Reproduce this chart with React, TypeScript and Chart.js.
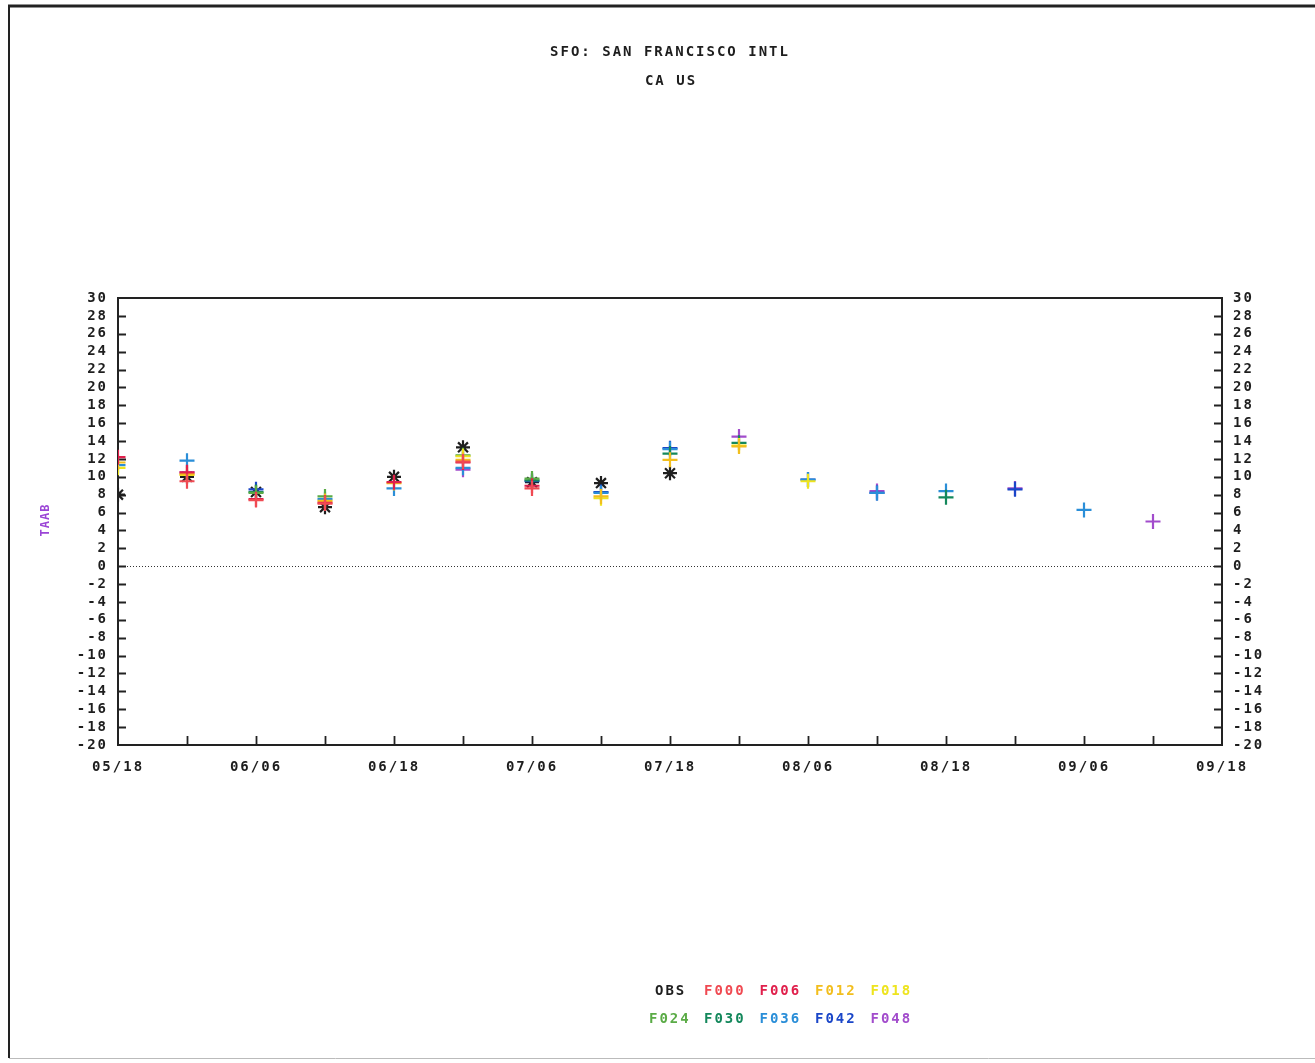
import React, { useEffect, useRef } from "react";
import { Chart, registerables } from "chart.js";

Chart.register(...registerables);

const xTickLabels = ["05/18", "06/06", "06/18", "07/06", "07/18", "08/06", "08/18", "09/06", "09/18"];
const titleLines = ["SFO: SAN FRANCISCO INTL", "CA US"];
const yAxisLabel = "TAAB";

const seriesNames = ["OBS", "F000", "F006", "F012", "F018", "F024", "F030", "F036", "F042", "F048"];
const seriesColors = ["#1e1e1e", "#f04a52", "#e0204c", "#f2be1e", "#eee41e", "#5aab46", "#14885c", "#2a8ed8", "#1a46c8", "#a24ccc"];

const N = null;
// values by x position index 0..15
const obs = [8.0, 10.0, 8.3, 6.6, 10.0, 13.3, 9.4, 9.3, 10.4, N, N, N, N, N, N, N];
const f000 = [N, 9.5, 7.4, 7.0, N, 11.7, 8.7, N, N, N, N, N, N, N, N, N];
const f006 = [12.2, 10.5, 7.5, 7.1, 9.4, 11.6, 9.0, N, N, N, N, N, N, N, N, N];
const f012 = [11.6, 10.3, N, 7.3, 9.3, 11.9, N, 7.8, 11.9, 13.4, N, N, N, N, N, N];
const f018 = [11.0, 10.2, N, N, N, 12.3, N, 7.6, N, 13.5, 9.5, N, N, N, N, N];
const f024 = [N, N, 8.2, 7.8, N, 12.4, 9.8, N, N, N, N, N, N, N, N, N];
const f030 = [N, N, 8.3, N, N, N, 9.6, N, 12.6, 13.8, N, N, 7.7, N, N, N];
const f036 = [11.3, 11.8, N, 7.5, 8.7, 11.0, N, 8.2, 13.1, N, 9.7, 8.2, 8.4, N, 6.3, N];
const f042 = [N, N, 8.6, N, N, N, 9.5, 8.3, 13.2, N, 9.7, 8.2, N, 8.6, N, N];
const f048 = [N, 10.5, N, N, N, 10.8, N, N, N, 14.5, N, 8.4, N, 8.7, N, 5.0];

const seriesValues = [obs, f000, f006, f012, f018, f024, f030, f036, f042, f048];

const FONT = "'DejaVu Sans Mono', monospace";
const SPACING = "2px";

export default function App() {
  const ref = useRef<HTMLCanvasElement | null>(null);

  useEffect(() => {
    if (!ref.current) return;

    const spacingPlugin = {
      id: "spacing",
      beforeUpdate(chart: any) {
        chart.ctx.letterSpacing = SPACING;
      },
      beforeDraw(chart: any) {
        chart.ctx.letterSpacing = SPACING;
      },
    };

    const decorPlugin = {
      id: "decor",
      beforeDatasetsDraw(chart: any) {
        const ctx = chart.ctx;
        const ca = chart.chartArea;
        const ys = chart.scales.y;
        const xs = chart.scales.x;
        ctx.save();
        // frame
        ctx.strokeStyle = "#222";
        ctx.lineWidth = 2;
        ctx.beginPath();
        ctx.moveTo(9, 1058);
        ctx.lineTo(9, 6);
        ctx.stroke();
        ctx.lineWidth = 3;
        ctx.beginPath();
        ctx.moveTo(8, 6);
        ctx.lineTo(1315, 6);
        ctx.stroke();
        ctx.strokeStyle = "#bbb";
        ctx.lineWidth = 1;
        ctx.beginPath();
        ctx.moveTo(9, 1058.5);
        ctx.lineTo(1315, 1058.5);
        ctx.stroke();
        // zero dotted line
        const y0 = Math.round(ys.getPixelForValue(0)) + 0.5;
        ctx.strokeStyle = "#333";
        ctx.lineWidth = 1;
        ctx.setLineDash([1, 2]);
        ctx.beginPath();
        ctx.moveTo(ca.left, y0);
        ctx.lineTo(ca.right, y0);
        ctx.stroke();
        ctx.setLineDash([]);
        // axes box
        ctx.strokeStyle = "#222";
        ctx.lineWidth = 2;
        ctx.strokeRect(ca.left, ca.top, ca.right - ca.left, ca.bottom - ca.top);
        // y ticks inward
        ctx.lineWidth = 1.8;
        for (let v = -18; v <= 28; v += 2) {
          const py = Math.round(ys.getPixelForValue(v)) + 0.5;
          ctx.beginPath();
          ctx.moveTo(ca.left, py);
          ctx.lineTo(ca.left + 8, py);
          ctx.moveTo(ca.right - 8, py);
          ctx.lineTo(ca.right, py);
          ctx.stroke();
        }
        // x ticks inward
        for (let i = 1; i < 16; i++) {
          const px = Math.round(xs.getPixelForValue(i)) + 0.5;
          ctx.beginPath();
          ctx.moveTo(px, ca.bottom);
          ctx.lineTo(px, ca.bottom - 9);
          ctx.stroke();
        }
        ctx.restore();
      },
      afterDraw(chart: any) {
        const ctx = chart.ctx;
        ctx.save();
        ctx.letterSpacing = SPACING;
        ctx.font = `bold 14px ${FONT}`;
        ctx.fillStyle = "#1e1e1e";
        ctx.textAlign = "center";
        ctx.textBaseline = "middle";
        ctx.fillText(titleLines[0], 670, 52);
        ctx.fillText(titleLines[1], 671, 81);
        // legend
        ctx.textAlign = "left";
        for (let i = 0; i < seriesNames.length; i++) {
          const row = i < 5 ? 0 : 1;
          const col = i % 5;
          let x = 704 + (col - 1) * 55.5;
          if (row === 0 && col === 0) x = 655;
          if (row === 1 && col === 0) x = 649;
          ctx.fillStyle = seriesColors[i];
          ctx.fillText(seriesNames[i], x, row === 0 ? 991 : 1019);
        }
        // y axis label
        ctx.save();
        ctx.translate(46, 520);
        ctx.rotate(-Math.PI / 2);
        ctx.font = `bold 12px ${FONT}`;
        ctx.letterSpacing = "1px";
        ctx.fillStyle = "#9b45d6";
        ctx.textAlign = "center";
        ctx.fillText(yAxisLabel, 0, 0);
        ctx.restore();
        ctx.restore();
      },
    };

    const datasets = seriesNames.map((name, si) => ({
      label: name,
      data: seriesValues[si]
        .map((v, i) => (v === null ? null : { x: i, y: v }))
        .filter((p) => p !== null),
      pointStyle: si === 0 ? "star" : "cross",
      pointRadius: si === 0 ? 7 : 7.5,
      pointHoverRadius: si === 0 ? 7 : 7.5,
      borderColor: seriesColors[si],
      backgroundColor: seriesColors[si],
      borderWidth: 2.2,
      showLine: false,
    }));
    // draw OBS last (on top)
    const ordered = [...datasets.slice(1), datasets[0]];

    const tickFont = { family: FONT, size: 14, weight: "bold" as const };

    const chart = new Chart(ref.current, {
      type: "scatter",
      data: { datasets: ordered as any },
      options: {
        animation: false,
        responsive: false,
        maintainAspectRatio: false,
        layout: { padding: { top: 298, bottom: 278, left: 0, right: 0 } },
        plugins: { legend: { display: false }, tooltip: { enabled: false }, title: { display: false } },
        scales: {
          x: {
            type: "linear",
            min: 0,
            max: 16,
            grid: { display: false, drawTicks: false },
            border: { display: false },
            ticks: {
              stepSize: 2,
              autoSkip: false,
              maxRotation: 0,
              padding: 14,
              color: "#1e1e1e",
              font: tickFont,
              callback: (v: any) => xTickLabels[Math.round(Number(v) / 2)] ?? "",
            },
            afterFit: (s: any) => {
              s.height = 40;
            },
          },
          y: {
            position: "left",
            min: -20,
            max: 30,
            grid: { display: false, drawTicks: false },
            border: { display: false },
            ticks: { stepSize: 2, autoSkip: false, padding: 10, color: "#1e1e1e", font: tickFont },
            afterFit: (s: any) => {
              s.width = 118;
            },
          },
          y2: {
            position: "right",
            min: -20,
            max: 30,
            grid: { display: false, drawTicks: false },
            border: { display: false },
            ticks: { stepSize: 2, autoSkip: false, padding: 11, color: "#1e1e1e", font: tickFont },
            afterFit: (s: any) => {
              s.width = 93;
            },
          },
        },
      },
      plugins: [spacingPlugin, decorPlugin],
    });

    return () => chart.destroy();
  }, []);

  return (
    <div style={{ position: "absolute", left: 0, top: 0, width: 1315, height: 1063, background: "#fff" }}>
      <canvas ref={ref} width={1315} height={1063} style={{ width: 1315, height: 1063, display: "block" }} />
    </div>
  );
}
